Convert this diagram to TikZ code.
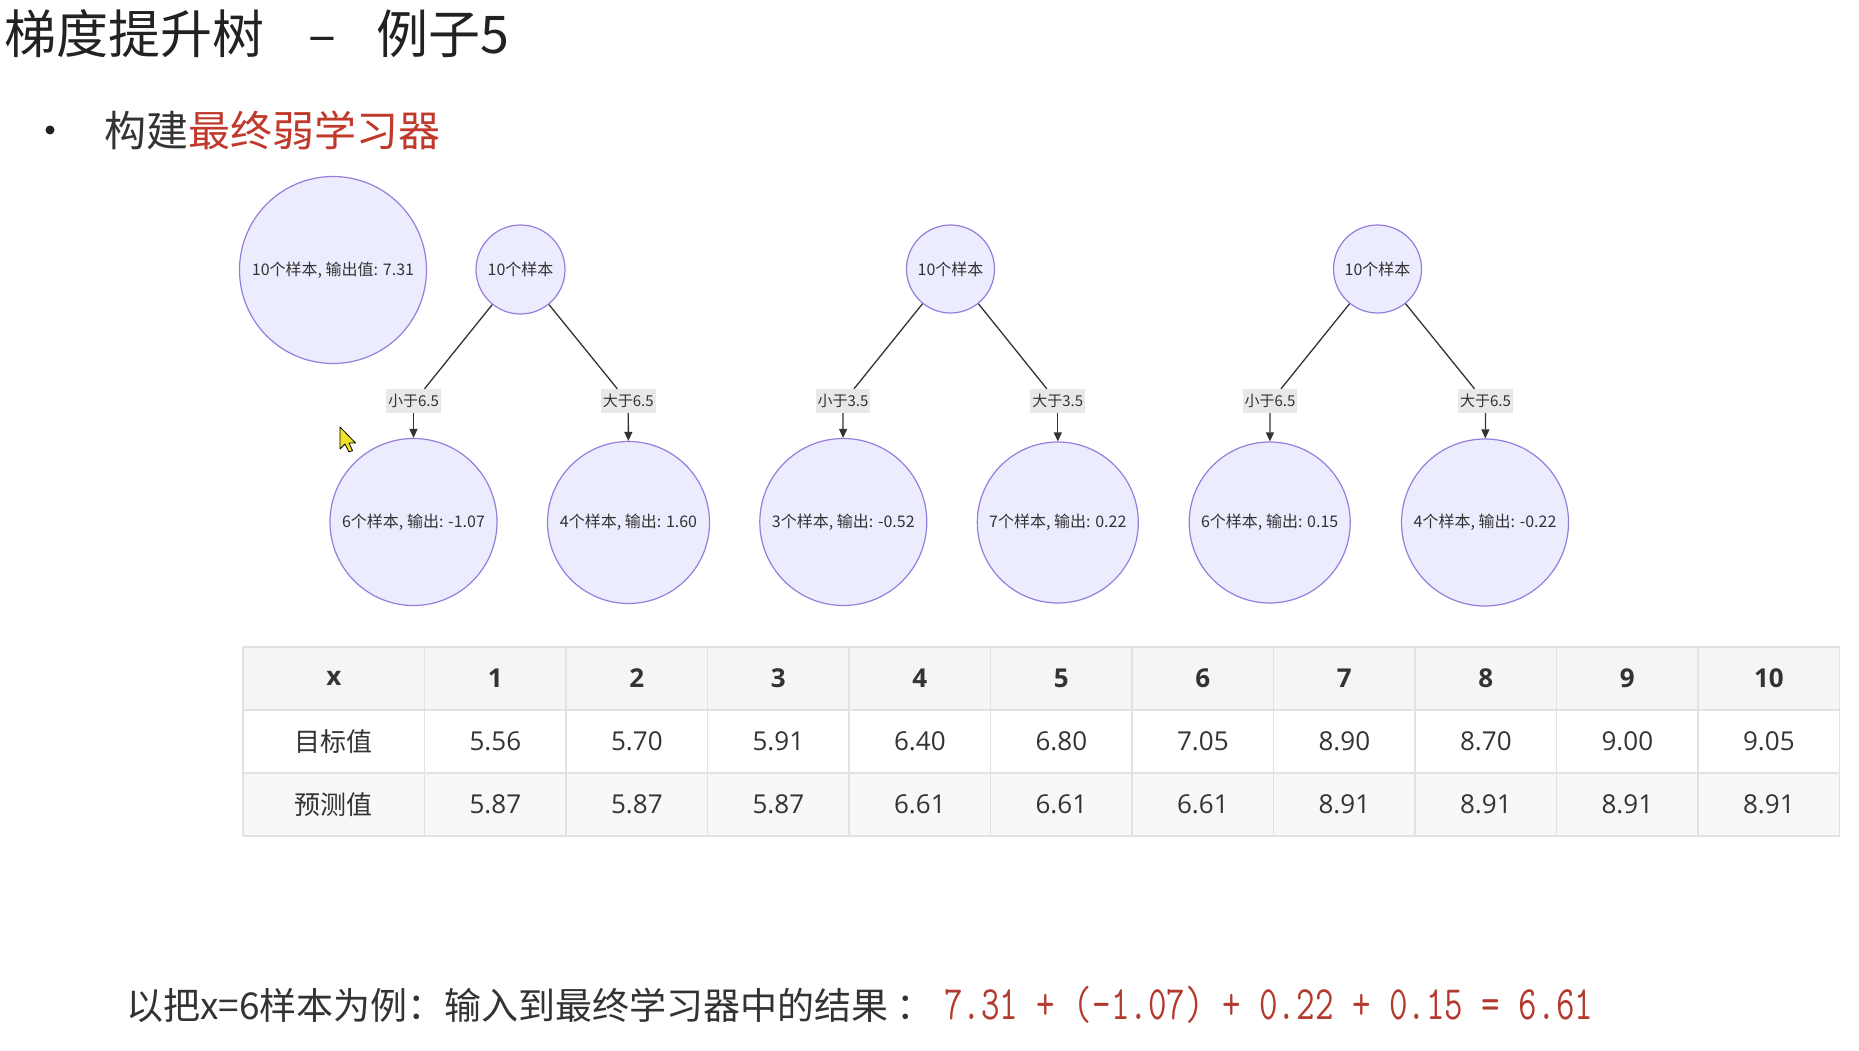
\documentclass[tikz,border=0pt]{standalone}
\usepackage{fontspec}
\usepackage{graphicx}
\newfontfamily\cjk{Noto Sans CJK SC}
\newfontfamily\opensans{Open Sans}
\usetikzlibrary{arrows.meta}

\begin{document}
\begin{tikzpicture}[x=1pt,y=-1pt,
        sample/.style={circle,draw=r150g125b220,fill=r236g236b255,line width=1.2pt,
          inner sep=0pt,minimum size=#1,text=r51g51b51,font=\cjk\fontsize{16}{18}\selectfont},
        cond/.style={fill=r232g232b232,inner xsep=2pt,inner ysep=0pt,minimum height=24pt,
          text=r51g51b51,font=\cjk\fontsize{15}{17}\selectfont},
        branch/.style={draw=r51g51b51,line width=1.3pt},
        flow/.style={branch,-{Triangle[length=9pt,width=8pt]}},
        rule/.style={draw=r226g226b226,line width=1.5pt},
        cell/.style={inner sep=0pt,text=r51g51b51,font=\opensans\fontsize{26}{30}\selectfont},
        headcell/.style={cell,font=\opensans\bfseries\fontsize{26}{30}\selectfont},
        rowhead/.style={inner sep=0pt,text=r51g51b51,font=\cjk\fontsize{26}{30}\selectfont}]

        % Changing colors
        \definecolor{r236g236b255}{rgb}{0.925490,0.925490,1.000000}%
        \definecolor{r150g125b220}{rgb}{0.588235,0.490196,0.862745}%
        \definecolor{r51g51b51}{rgb}{0.200000,0.200000,0.200000}%
        \definecolor{r34g34b34}{rgb}{0.133333,0.133333,0.133333}%
        \definecolor{r232g232b232}{rgb}{0.909804,0.909804,0.909804}%
        \definecolor{r192g57b43}{rgb}{0.752941,0.223529,0.168627}%
        \definecolor{r179g58b46}{rgb}{0.701961,0.227451,0.180392}%
        \definecolor{r245g245b245}{rgb}{0.960784,0.960784,0.960784}%
        \definecolor{r248g248b248}{rgb}{0.972549,0.972549,0.972549}%
        \definecolor{r226g226b226}{rgb}{0.886275,0.886275,0.886275}%
        \definecolor{r240g228b40}{rgb}{0.941176,0.894118,0.156863}%

        \useasboundingbox (0,0) rectangle (1859,1051);

        % Title and bullet
        \node [anchor=west,inner sep=0pt,text=r34g34b34,font=\cjk\fontsize{52}{58}\selectfont]
          (title) at (4,34) {梯度提升树\hspace{44pt}–\hspace{40pt}例子5};%
        \fill [r34g34b34] (50,130) circle (4.5);%
        \node [anchor=west,inner sep=0pt,text=r51g51b51,font=\cjk\fontsize{42}{48}\selectfont]
          (head) at (104,130) {构建\textcolor{r192g57b43}{最终弱学习器}};%

        % Marking initial learner
        \node [sample=187pt] (base) at (333,270) {10个样本, 输出值: 7.31};%

        % Marking tree roots
        \node [sample=89pt] (root1) at (520.5,269.5) {10个样本};%
        \node [sample=88pt] (root2) at (950.5,269) {10个样本};%
        \node [sample=88pt] (root3) at (1377.5,269) {10个样本};%

        % Marking split conditions
        \node [cond] (cnd1) at (413.5,401) {小于6.5};%
        \node [cond] (cnd2) at (628.3,401) {大于6.5};%
        \node [cond] (cnd3) at (843,401) {小于3.5};%
        \node [cond] (cnd4) at (1057.8,401) {大于3.5};%
        \node [cond] (cnd5) at (1270,401) {小于6.5};%
        \node [cond] (cnd6) at (1485.5,401) {大于6.5};%

        % Marking leaves
        \node [sample=167pt] (leaf1) at (413.5,522) {6个样本, 输出: -1.07};%
        \node [sample=162pt] (leaf2) at (628.5,522.5) {4个样本, 输出: 1.60};%
        \node [sample=167pt] (leaf3) at (843.3,522) {3个样本, 输出: -0.52};%
        \node [sample=161pt] (leaf4) at (1057.8,522.5) {7个样本, 输出: 0.22};%
        \node [sample=161pt] (leaf5) at (1269.7,522.5) {6个样本, 输出: 0.15};%
        \node [sample=167pt] (leaf6) at (1485,522.5) {4个样本, 输出: -0.22};%

        % Drawing branches
        \draw [branch] (root1) -- ([xshift=11pt]cnd1.north);%
        \draw [branch] (root1) -- ([xshift=-11pt]cnd2.north);%
        \draw [branch] (root2) -- ([xshift=11pt]cnd3.north);%
        \draw [branch] (root2) -- ([xshift=-11pt]cnd4.north);%
        \draw [branch] (root3) -- ([xshift=11pt]cnd5.north);%
        \draw [branch] (root3) -- ([xshift=-11pt]cnd6.north);%
        \foreach \i in {1,...,6}
          \draw [flow] (cnd\i) -- (leaf\i);%

        % Drawing pointer
        \filldraw [fill=r240g228b40,draw=black,line width=0.8pt,line join=round]
          (340,427) -- ++(0,22) -- ++(5,-5) -- ++(4,8) -- ++(3.5,-1.5) -- ++(-3.5,-7.5) -- ++(6.5,0) -- cycle;%

        % Drawing table
        \fill [r245g245b245] (243,647) rectangle (1840,710);%
        \fill [r248g248b248] (243,773) rectangle (1840,836);%
        \foreach \y in {647,710,773,836}
          \draw [rule] (243,\y) -- (1840,\y);%
        \draw [rule] (243,647) -- (243,836);%
        \foreach \i in {0,...,10}
          \draw [rule] ({424.6+141.5*\i},647) -- ({424.6+141.5*\i},836);%

        \node [headcell] (hx) at (333.8,678.5) {x};%
        \foreach \i in {1,...,10}
          \node [headcell] (h\i) at ({424.6+141.5*(\i-0.5)},678.5) {\i};%
        \node [rowhead] (tgt) at (333.8,741.5) {目标值};%
        \foreach \v [count=\i] in {5.56,5.70,5.91,6.40,6.80,7.05,8.90,8.70,9.00,9.05}
          \node [cell] (t\i) at ({424.6+141.5*(\i-0.5)},741.5) {\v};%
        \node [rowhead] (prd) at (333.8,804.5) {预测值};%
        \foreach \v [count=\i] in {5.87,5.87,5.87,6.61,6.61,6.61,8.91,8.91,8.91,8.91}
          \node [cell] (p\i) at ({424.6+141.5*(\i-0.5)},804.5) {\v};%

        % Result line
        \node [anchor=base west,inner sep=0pt,text=r51g51b51,font=\cjk\fontsize{37}{42}\selectfont]
          (eg) at (126,1019) {以把x=6样本为例：输入到最终学习器中的结果 ：};%
        \node [anchor=base west,inner sep=0pt,text=r179g58b46,font=\ttfamily\fontsize{36}{40}\selectfont]
          (sum) at (944,1019) {\scalebox{1}[1.33]{7.31 + (-1.07) + 0.22 + 0.15 = 6.61}};%
    \end{tikzpicture}
\end{document}
